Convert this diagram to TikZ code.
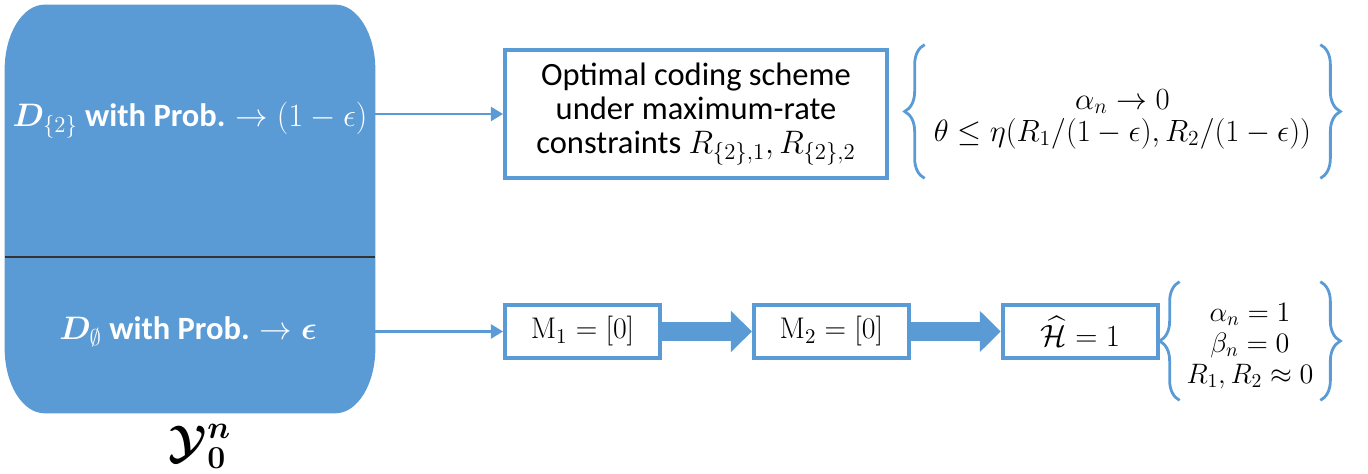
\RequirePackage{fix-cm}
\documentclass[tikz,border=0pt]{standalone}
\usepackage{amsmath,amssymb,bm}
\usepackage[no-math]{fontspec}
\setmainfont{Carlito}
\usetikzlibrary{arrows.meta,positioning,decorations.pathreplacing}
\definecolor{ltblue}{HTML}{5B9BD5}

\begin{document}
\begin{tikzpicture}[every node/.style={font=\fontsize{18.5}{19.5}\selectfont},
    box/.style={draw=ltblue, line width=2.2pt, fill=white, align=center},
    small/.style={box, minimum width=3.1cm, minimum height=1.06cm, font=\fontsize{17}{18}\selectfont},
    flow/.style={ltblue, line width=1.6pt, -{Triangle[length=7pt,width=8pt]}},
    fat/.style={ltblue, line width=0.38cm, -{Triangle[length=0.42cm,width=0.8cm]}},
    curly/.style={ltblue, line width=1.6pt, decorate, decoration={brace, amplitude=0.4cm}}]

    \useasboundingbox (0,0) rectangle (27.36,9.48);

    % source block
    \node[minimum width=7.4cm, minimum height=8.16cm] (src) at (3.8,5.3) {};
    \fill[ltblue] ([yshift=-1.3cm]src.north west)
        arc[start angle=180, end angle=90, x radius=0.8cm, y radius=1.3cm]
        -- ([xshift=-0.8cm]src.north east)
        arc[start angle=90, end angle=0, x radius=0.8cm, y radius=1.3cm]
        -- ([yshift=1.3cm]src.south east)
        arc[start angle=0, end angle=-90, x radius=0.8cm, y radius=1.3cm]
        -- ([xshift=0.8cm]src.south west)
        arc[start angle=-90, end angle=-180, x radius=0.8cm, y radius=1.3cm]
        -- cycle;
    \coordinate (cut) at (3.8,4.34);
    \draw[black!80, line width=0.6pt] (src.west |- cut) -- (src.east |- cut);

    \node[text=white] (d_2) at (3.8,7.08)
        {$\bm{D}_{\{2\}}$ \textbf{with Prob.} $\rightarrow (1-\epsilon)$};
    \node[text=white] (d_0) at (3.76,2.84)
        {$\bm{D}_{\emptyset}$ \textbf{with Prob.} $\rightarrow \bm{\epsilon}$};
    \node[font=\fontsize{26}{30}\selectfont] (y_0) at (4.0,0.55)
        {$\bm{\mathcal{Y}}_{\bm{0}}^{\bm{n}}$};

    % upper branch
    \node[box, minimum width=7.64cm, minimum height=2.56cm] (box_1) at (13.92,7.2)
        {Optimal coding scheme\\under maximum-rate\\constraints $R_{\{2\},1},R_{\{2\},2}$};
    \node[minimum width=7.9cm, minimum height=2.66cm, align=center,
          font=\fontsize{17.5}{18.2}\selectfont] (c_1) at (22.45,7.1)
        {$\alpha_n \rightarrow 0$\\$\theta \le \eta(R_1/(1-\epsilon), R_2/(1-\epsilon))$};

    % lower branch
    \node[small] (m_1) at (11.65,2.85) {$\mathrm{M}_1=[0]$};
    \node[small] (m_2) [right=1.8cm of m_1] {$\mathrm{M}_2=[0]$};
    \node[small, font=\fontsize{17.5}{18}\selectfont] (h_1) [right=1.8cm of m_2] {$\widehat{\mathcal{H}}=1$};
    \node[minimum width=2.8cm, minimum height=2.36cm, align=center,
          font=\fontsize{16}{17.6}\selectfont] (c_2) at (25,2.56)
        {$\alpha_n = 1$\\$\beta_n = 0$\\$R_1,R_2 \approx 0$};

    \draw[flow] (src.east |- box_1) -- (box_1);
    \draw[flow] (src.east |- m_1) -- (m_1);
    \path[fat]
        (m_1) edge (m_2)
        (m_2) edge (h_1);

    \draw[curly] ([yshift=0.15cm]c_1.south west) -- ([yshift=0.15cm]c_1.north west);
    \draw[curly] ([yshift=0.15cm]c_1.north east) -- ([yshift=0.15cm]c_1.south east);
    \draw[curly] ([yshift=0.1cm]c_2.south west) -- ([yshift=0.1cm]c_2.north west);
    \draw[curly] ([yshift=0.1cm]c_2.north east) -- ([yshift=0.1cm]c_2.south east);
\end{tikzpicture}
\end{document}
